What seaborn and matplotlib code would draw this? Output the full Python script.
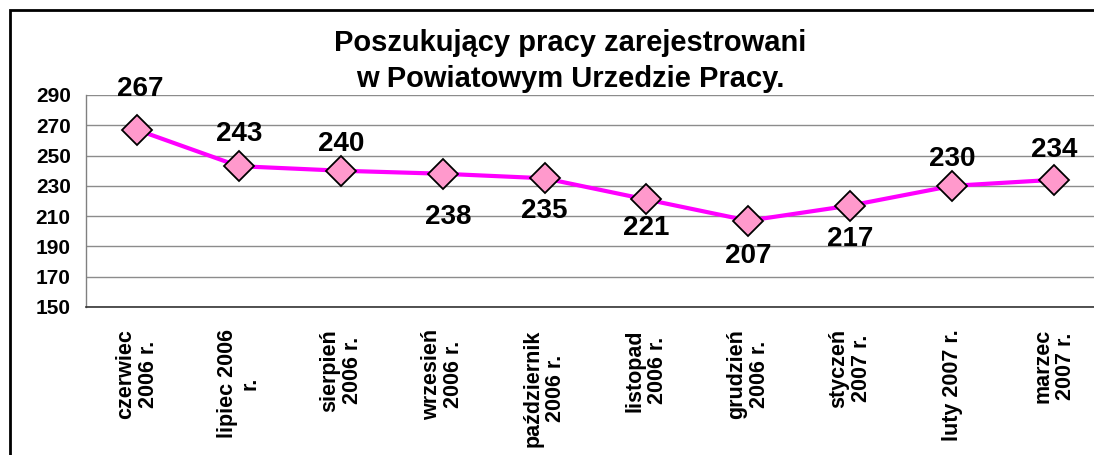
import matplotlib
matplotlib.use("Agg")
import matplotlib.pyplot as plt
import seaborn as sns
import pandas as pd
from matplotlib.patches import Rectangle
from matplotlib.ticker import FixedLocator

# ---- data ----
categories = ["czerwiec\n2006 r.", "lipiec 2006\nr.", "sierpień\n2006 r.", "wrzesień\n2006 r.",
              "październik\n2006 r.", "listopad\n2006 r.", "grudzień\n2006 r.", "styczeń\n2007 r.",
              "luty 2007 r.", "marzec\n2007 r."]
values = [267, 243, 240, 238, 235, 221, 207, 217, 230, 234]
y_ticks = [150, 170, 190, 210, 230, 250, 270, 290]
title = "Poszukujący pracy zarejestrowani\nw Powiatowym Urzedzie Pracy."

# ---- style (label offsets in pixels, not data) ----
label_dy = [41, 32, 27, -43, -33, -29, -35, -33, 27, 30]
label_dx = [3, 0, 0, 6, 0, 0, 0, 0, 0, 0]

sns.set_style("white")
plt.rcParams['font.family'] = ['Liberation Sans', 'DejaVu Sans']
plt.rcParams['font.weight'] = 'bold'
plt.rcParams['text.color'] = 'black'
plt.rcParams['xtick.labelcolor'] = 'black'
plt.rcParams['ytick.labelcolor'] = 'black'

W, H = 1094, 455
fig = plt.figure(figsize=(W / 100, H / 100), dpi=100)

left, right, top, bottom = 86, 1105, 95, 307
ax = fig.add_axes([left / W, 1 - bottom / H, (right - left) / W, (bottom - top) / H])

df = pd.DataFrame({"x": list(range(len(values))), "y": values})
sns.lineplot(data=df, x="x", y="y", ax=ax, color="#FF00FF", linewidth=3,
             marker="D", markersize=15, markerfacecolor="#FF99CC",
             markeredgecolor="black", markeredgewidth=1.3, zorder=3)

ax.set_xlim(-0.5, len(values) - 0.5)
ax.set_ylim(y_ticks[0], y_ticks[-1])
ax.yaxis.set_major_locator(FixedLocator(y_ticks))
ax.grid(axis="y", color="#8c8c8c", linewidth=1)
ax.set_axisbelow(True)

ax.set_xticks(range(len(values)))
ax.set_xticklabels(categories, rotation=90, fontsize=15.5, fontweight="bold", color="black",
                   ha="center", va="top", multialignment="center", linespacing=1.1)
ax.xaxis.set_minor_locator(FixedLocator([i - 0.5 for i in range(len(values) + 1)]))
ax.tick_params(axis="x", which="major", length=0, pad=16)
ax.tick_params(axis="x", which="minor", length=5, width=1, color="#333333", direction="out")
ax.tick_params(axis="y", which="major", length=5, width=1, color="#333333", direction="out",
               labelsize=15, pad=6, labelcolor="black")
for lab in ax.get_yticklabels():
    lab.set_fontweight("bold")

for s in ["top", "right"]:
    ax.spines[s].set_visible(False)
ax.spines["left"].set_color("#808080")
ax.spines["left"].set_linewidth(1)
ax.spines["bottom"].set_color("#333333")
ax.spines["bottom"].set_linewidth(1.2)
ax.set_xlabel("")
ax.set_ylabel("")

for i, v in enumerate(values):
    ax.annotate(str(v), (i, v), xytext=(label_dx[i], label_dy[i]), textcoords="offset pixels",
                ha="center", va="center", fontsize=20, fontweight="bold", color="black")

fig.text(570 / W, 1 - 61 / H, title, ha="center", va="center", fontsize=21,
         fontweight="bold", linespacing=1.35, color="black")

fig.patches.append(Rectangle((10 / W, -0.5), 2, 1 - 10 / H + 0.5, transform=fig.transFigure,
                             fill=False, edgecolor="black", linewidth=2))

fig.savefig("out.png", dpi=100)
